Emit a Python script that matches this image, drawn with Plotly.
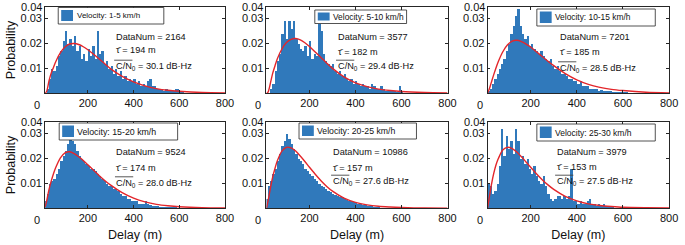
import plotly.graph_objects as go

W, H = 685, 245

# ---------------- data ----------------
bin_centers = [15 + 10 * i for i in range(61)]  # delay (m)

prob_1_5 = [0, 0.002, 0.006, 0.010, 0.009, 0.011, 0.015, 0.017, 0.021, 0.025, 0.020,
            0.022, 0.019, 0.023, 0.017, 0.019, 0.014, 0.016, 0.013, 0.018, 0.015,
            0.019, 0.014, 0.025, 0.016, 0.017, 0.012, 0.013, 0.010, 0.011, 0.008,
            0.010, 0.007, 0.009, 0.006, 0.007, 0.005, 0.006, 0.005, 0.006, 0.004,
            0.005, 0.003, 0.004, 0.003, 0.005, 0.006, 0.003, 0.003, 0.002, 0.002,
            0.002, 0.001, 0.002, 0.001, 0.001, 0.001, 0.002, 0.002, 0.001, 0.0005]
prob_5_10 = [0, 0, 0.002, 0.004, 0.009, 0.013, 0.016, 0.024, 0.029, 0.022, 0.029,
             0.026, 0.029, 0.022, 0.020, 0.018, 0.017, 0.019, 0.015, 0.021, 0.014,
             0.016, 0.015, 0.028, 0.025, 0.016, 0.013, 0.012, 0.011, 0.012, 0.009,
             0.008, 0.009, 0.007, 0.008, 0.006, 0.005, 0.006, 0.004, 0.005, 0.004,
             0.003, 0.004, 0.003, 0.003, 0.002, 0.004, 0.003, 0.002, 0.002, 0.003,
             0.002, 0.001, 0.001, 0.001, 0.001, 0.001, 0.0005, 0.003, 0.0005, 0]
prob_10_15 = [0.001, 0.002, 0.004, 0.006, 0.008, 0.010, 0.012, 0.014, 0.017, 0.020, 0.024,
              0.027, 0.031, 0.034, 0.027, 0.024, 0.022, 0.023, 0.019, 0.020, 0.018,
              0.017, 0.016, 0.017, 0.015, 0.014, 0.013, 0.014, 0.011, 0.010, 0.011,
              0.009, 0.008, 0.008, 0.007, 0.006, 0.006, 0.005, 0.005, 0.004, 0.005,
              0.003, 0.003, 0.003, 0.002, 0.002, 0.002, 0.002, 0.001, 0.0015, 0.001,
              0.001, 0.001, 0.001, 0.0008, 0.0008, 0.0008, 0.0005, 0.0005, 0.0005, 0.0003]
prob_15_20 = [0.003, 0.006, 0.010, 0.011, 0.012, 0.014, 0.016, 0.019, 0.021, 0.023, 0.026,
              0.029, 0.027, 0.026, 0.023, 0.021, 0.020, 0.019, 0.018, 0.017, 0.016,
              0.016, 0.015, 0.014, 0.013, 0.012, 0.011, 0.010, 0.009, 0.009, 0.008,
              0.008, 0.007, 0.006, 0.005, 0.005, 0.004, 0.004, 0.003, 0.003, 0.003,
              0.002, 0.002, 0.002, 0.003, 0.002, 0.0015, 0.0012, 0.001, 0.001, 0.0008,
              0.0008, 0.0006, 0.0005, 0.0005, 0.0004, 0.0003, 0.0003, 0.0002, 0, 0]
prob_20_25 = [0.004, 0.009, 0.011, 0.014, 0.016, 0.019, 0.022, 0.025, 0.027, 0.030, 0.028,
              0.026, 0.024, 0.022, 0.020, 0.019, 0.018, 0.016, 0.015, 0.014, 0.013,
              0.012, 0.011, 0.010, 0.009, 0.0085, 0.008, 0.007, 0.0065, 0.006, 0.0055,
              0.005, 0.0048, 0.0045, 0.004, 0.0035, 0.003, 0.003, 0.0025, 0.0022, 0.002,
              0.0018, 0.0015, 0.0013, 0.0012, 0.001, 0.001, 0.0006, 0.0004, 0.0003, 0.0002,
              0.0001, 0.0001, 0.0001, 0, 0, 0, 0, 0, 0, 0]
prob_25_30 = [0.010, 0.009, 0.006, 0.007, 0.010, 0.017, 0.032, 0.021, 0.029, 0.024, 0.027,
              0.022, 0.032, 0.027, 0.020, 0.021, 0.018, 0.020, 0.016, 0.014, 0.017,
              0.013, 0.011, 0.010, 0.013, 0.009, 0.006, 0.004, 0.003, 0.004, 0.005,
              0.005, 0.004, 0.005, 0.004, 0.005, 0.016, 0.003, 0.003, 0.002, 0.003,
              0.002, 0.002, 0.003, 0.004, 0.002, 0.002, 0.001, 0.002, 0.001, 0.002,
              0.001, 0.0005, 0.001, 0.0005, 0, 0, 0, 0, 0, 0]

fit_delay = [13, 20, 30, 40, 50, 60, 80, 100, 120, 140, 160, 180, 200, 225, 250, 275,
             300, 350, 400, 450, 500, 550, 600, 700, 800]
fit_1_5 = [0, 0.0008, 0.005, 0.0082, 0.0105, 0.0128, 0.0163, 0.0186, 0.0198, 0.0200, 0.0196,
           0.0187, 0.0175, 0.0157, 0.0138, 0.0118, 0.0098, 0.0068, 0.0046, 0.0030, 0.0019,
           0.0012, 0.0008, 0.0003, 0.0001]
fit_5_10 = [0, 0.0005, 0.004, 0.008, 0.011, 0.0138, 0.0178, 0.0204, 0.0217, 0.0220, 0.0215,
            0.0203, 0.0188, 0.0166, 0.0144, 0.0121, 0.0100, 0.0066, 0.0042, 0.0027, 0.0017,
            0.0011, 0.0007, 0.0003, 0.0001]
fit_10_15 = [0, 0.0015, 0.0045, 0.0075, 0.0103, 0.0128, 0.0168, 0.0195, 0.0210, 0.0213, 0.0208,
             0.0198, 0.0186, 0.0167, 0.0148, 0.0129, 0.0111, 0.0079, 0.0054, 0.0036, 0.0024,
             0.0016, 0.0011, 0.0004, 0.0001]
fit_15_20 = [0.0005, 0.003, 0.0075, 0.011, 0.014, 0.0165, 0.0203, 0.0223, 0.0227, 0.0220, 0.0207,
             0.0192, 0.0175, 0.0153, 0.0131, 0.0111, 0.0093, 0.0063, 0.0041, 0.0026, 0.0016,
             0.0010, 0.0006, 0.0002, 0.0001]
fit_20_25 = [0, 0.003, 0.008, 0.0125, 0.016, 0.019, 0.0230, 0.0245, 0.0243, 0.0230, 0.0210,
             0.0188, 0.0165, 0.0137, 0.0111, 0.0088, 0.0069, 0.0041, 0.0024, 0.0014, 0.0008,
             0.0005, 0.0003, 0.0001, 0]
fit_25_30 = [0, 0.004, 0.0095, 0.014, 0.0175, 0.020, 0.0235, 0.0245, 0.0240, 0.0226, 0.0207,
             0.0186, 0.0165, 0.0139, 0.0115, 0.0094, 0.0076, 0.0048, 0.0030, 0.0018, 0.0011,
             0.0007, 0.0004, 0.0002, 0.0001]

velocity_labels = ["Velocity: 1-5 km/h", "Velocity: 5-10 km/h", "Velocity: 10-15 km/h",
                   "Velocity: 15-20 km/h", "Velocity: 20-25 km/h", "Velocity: 25-30 km/h"]
data_num = [2164, 3577, 7201, 9524, 10986, 3979]
mean_delay = [194, 182, 185, 174, 157, 153]
cn0 = [30.1, 29.4, 28.5, 28.0, 27.6, 27.5]

x_tick_vals = [200, 400, 600, 800]
x_tick_text = ["200", "400", "600", "800"]
y_tick_vals = [0.01, 0.02, 0.03]
y_tick_text = ["0.01", "0.02", "0.03"]
x_first_label = "0"
y_top_label = "0.04"

hist_series = [prob_1_5, prob_5_10, prob_10_15, prob_15_20, prob_20_25, prob_25_30]
fit_series = [fit_1_5, fit_5_10, fit_10_15, fit_15_20, fit_20_25, fit_25_30]

# ---------------- layout geometry (pixels) ----------------
col_left = [45.7, 270, 494]
col_right = [228, 453.5, 678]
row_top = [6.7, 121.7]
row_bot = [93.3, 208.3]

legend_box = [(59, 7.5, 166, 24), (319, 10, 412, 23.5), (544, 9, 664, 26),
              (60, 123, 180, 140), (303, 123, 422, 139), (544, 124, 664, 141)]
legend_font = [8.0, 8.4, 8.4, 8.8, 8.7, 8.5]
stats_dx = [69.5, 70, 71, 70.3, 65, 68]
stats_dy = [(30, 43.5, 60), (30, 45, 60), (30, 45, 61.6), (30, 46, 61.6), (30.6, 46, 60), (30, 45, 60)]

FONT = "Liberation Sans, Arial, Helvetica, sans-serif"
BAR_COLOR = "#3079bb"
FIT_COLOR = "#e3262b"
AX_COLOR = "#262626"


def px(x):
    return x / W


def py(y):
    return 1 - y / H


fig = go.Figure()
shapes = []
annotations = []

for i in range(6):
    r, c = divmod(i, 3)
    n = i + 1
    xa = "x" if n == 1 else f"x{n}"
    ya = "y" if n == 1 else f"y{n}"
    fig.add_trace(go.Bar(x=bin_centers, y=hist_series[i], width=10, xaxis=xa, yaxis=ya,
                         marker=dict(color=BAR_COLOR, line=dict(width=0)),
                         showlegend=False, hoverinfo="x+y"))
    fig.add_trace(go.Scatter(x=fit_delay, y=fit_series[i], mode="lines", xaxis=xa, yaxis=ya,
                             line=dict(color=FIT_COLOR, width=1.4, shape="spline", smoothing=0.8),
                             showlegend=False, hoverinfo="skip"))

    xkey = "xaxis" if n == 1 else f"xaxis{n}"
    ykey = "yaxis" if n == 1 else f"yaxis{n}"
    xaxis = dict(domain=[px(col_left[c]), px(col_right[c])], anchor=ya, range=[13, 800],
                 tickvals=x_tick_vals, ticktext=x_tick_text, ticks="inside", ticklen=3,
                 tickcolor=AX_COLOR, showline=True, linecolor=AX_COLOR, linewidth=0.8,
                 mirror="ticks", showgrid=False, zeroline=False,
                 tickfont=dict(family=FONT, size=11, color="#111"))
    if r == 1:
        xaxis["title"] = dict(text="Delay (m)", font=dict(family=FONT, size=12.5, color="#111"), standoff=6)
    yaxis = dict(domain=[py(row_bot[r]), py(row_top[r])], anchor=xa, range=[0, 0.0348],
                 tickvals=y_tick_vals, ticktext=y_tick_text, ticks="inside", ticklen=3,
                 tickcolor=AX_COLOR, showline=True, linecolor=AX_COLOR, linewidth=0.8,
                 mirror="ticks", showgrid=False, zeroline=False,
                 tickfont=dict(family=FONT, size=11, color="#111"))
    if c == 0:
        yaxis["title"] = dict(text="Probability", font=dict(family=FONT, size=12.5, color="#111"), standoff=2)
    fig.layout[xkey] = xaxis
    fig.layout[ykey] = yaxis

    # extra tick labels ("0" under left edge, "0.04" at top)
    annotations.append(dict(text=x_first_label, x=0, xref=f"{xa} domain", y=0, yref=f"{ya} domain",
                            xanchor="center", yanchor="middle", xshift=-8, yshift=-12, showarrow=False,
                            font=dict(family=FONT, size=11, color="#111")))
    annotations.append(dict(text=y_top_label, x=0, xref=f"{xa} domain", y=1, yref=f"{ya} domain",
                            xanchor="right", yanchor="middle", xshift=-1, showarrow=False,
                            font=dict(family=FONT, size=11, color="#111")))

    # legend box
    x0, y0, x1, y1 = legend_box[i]
    shapes.append(dict(type="rect", xref="paper", yref="paper", x0=px(x0), x1=px(x1), y0=py(y1), y1=py(y0),
                       line=dict(color=AX_COLOR, width=0.8), fillcolor="white", layer="above"))
    shapes.append(dict(type="rect", xref="paper", yref="paper", x0=px(x0 + 3), x1=px(x0 + 15),
                       y0=py(y1 - 3), y1=py(y0 + 2.5), line=dict(width=0), fillcolor=BAR_COLOR, layer="above"))
    annotations.append(dict(text=velocity_labels[i], x=px(x0 + 16.5), y=py((y0 + y1) / 2), xref="paper", yref="paper",
                            xanchor="left", yanchor="middle", showarrow=False,
                            font=dict(family=FONT, size=legend_font[i], color="#111")))

    # statistics text
    tx = col_left[c] + stats_dx[i]
    ty = [row_top[r] + d for d in stats_dy[i]]
    texts = [f"DataNum = {data_num[i]}", f"τ̄ = {mean_delay[i]} m", f"C/N<sub>0</sub> = {cn0[i]:.1f} dB·Hz"]
    for t, yy in zip(texts, ty):
        annotations.append(dict(text=t, x=px(tx), y=py(yy), xref="paper", yref="paper",
                                xanchor="left", yanchor="middle", showarrow=False,
                                font=dict(family=FONT, size=9.2, color="#111")))
    shapes.append(dict(type="line", xref="paper", yref="paper", x0=px(tx + 0.5), x1=px(tx + 19),
                       y0=py(ty[2] - 6.5), y1=py(ty[2] - 6.5), line=dict(color="#444", width=0.9), layer="above"))

fig.update_layout(width=W, height=H, margin=dict(l=0, r=0, t=0, b=0), paper_bgcolor="white",
                  plot_bgcolor="white", bargap=0, shapes=shapes, annotations=annotations,
                  font=dict(family=FONT))
fig.write_html("out.html", config={"displayModeBar": False},
               post_script="document.body.style.margin='0';")
